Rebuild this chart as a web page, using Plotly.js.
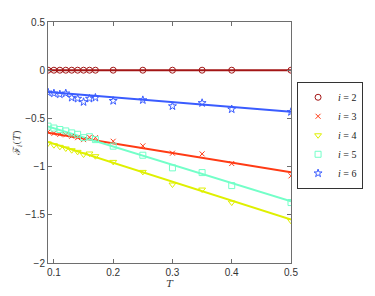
<!DOCTYPE html>
<html><head><meta charset="utf-8">
<script src="https://cdn.plot.ly/plotly-3.0.1.min.js"></script>
<style>html,body{margin:0;padding:0;background:#fff}#chart{width:375px;height:296px}</style>
</head><body><div id="chart"></div>
<script>
const T = [0.09,0.10,0.11,0.12,0.13,0.14,0.15,0.16,0.17,0.2,0.25,0.3,0.35,0.4,0.5];
const F2 = [0,0,0,0,0,0,0,0,0,0,0,0,0,0,0];
const F3 = [-0.64,-0.655,-0.665,-0.67,-0.685,-0.70,-0.72,-0.695,-0.70,-0.737,-0.785,-0.861,-0.868,-0.968,-1.096];
const F4 = [-0.76,-0.778,-0.795,-0.812,-0.83,-0.847,-0.875,-0.864,-0.892,-0.951,-1.055,-1.186,-1.238,-1.373,-1.563];
const F5 = [-0.58,-0.60,-0.615,-0.63,-0.65,-0.665,-0.70,-0.69,-0.72,-0.788,-0.882,-1.013,-1.062,-1.197,-1.373];
const F6 = [-0.23,-0.24,-0.25,-0.24,-0.285,-0.295,-0.33,-0.295,-0.285,-0.318,-0.31,-0.373,-0.34,-0.405,-0.433];
const fitT = [0.09,0.5];
const fit2 = [0,0];
const fit3 = [-0.65,-1.06];
const fit4 = [-0.743,-1.55];
const fit5 = [-0.583,-1.36];
const fit6 = [-0.225,-0.43];
const labels = ['<i>i</i> = 2','<i>i</i> = 3','<i>i</i> = 4','<i>i</i> = 5','<i>i</i> = 6'];
const colors = ['#a31515','#ff3a14','#dff000','#73ffc8','#3a5cff'];
const symbols = ['circle-open','x-thin-open','triangle-down-open','square-open','star-open'];
const sizes = [6,5,6,6,6];
const series = [F2,F3,F4,F5,F6];
const fits = [fit2,fit3,fit4,fit5,fit6];

const traces = [];
for (let k=0;k<5;k++){
  traces.push({x:fitT,y:fits[k],mode:'lines',line:{color:colors[k],width:2},showlegend:false,hoverinfo:'skip'});
}
for (let k=0;k<5;k++){
  traces.push({x:T,y:series[k],mode:'markers',name:labels[k],
    marker:{symbol:symbols[k],size:sizes[k],color:colors[k],line:{color:colors[k],width:1}}});
}
const ax = {showgrid:false,zeroline:false,showline:true,linecolor:'#6e6e6e',linewidth:1,mirror:'ticks',
  ticks:'inside',ticklen:4,tickcolor:'#6e6e6e',tickfont:{family:'Liberation Sans, Arial',size:10,color:'#333'}};
const layout = {
  width:375,height:296,margin:{l:48,r:78,t:22,b:33},
  paper_bgcolor:'#fff',plot_bgcolor:'#fff',
  xaxis:Object.assign({},ax,{range:[0.09,0.5],tickvals:[0.1,0.2,0.3,0.4,0.5],ticktext:['0.1','0.2','0.3','0.4','0.5'],
    title:{text:'<i>T</i>',font:{family:'DejaVu Serif, Liberation Serif',size:10,color:'#333'},standoff:1}}),
  yaxis:Object.assign({},ax,{range:[-2,0.5],tickvals:[-2,-1.5,-1,-0.5,0,0.5],ticktext:['\u22122','\u22121.5','\u22121','\u22120.5','0','0.5'],
    title:{text:'\u2131<sub><i>i</i></sub>(<i>T</i>)',font:{family:'DejaVu Serif, Liberation Serif',size:10,color:'#444'},standoff:2}}),
  legend:{x:1.025,y:0.53,xanchor:'left',yanchor:'middle',bgcolor:'#fff',bordercolor:'#333',borderwidth:1,
    font:{family:'Liberation Serif, DejaVu Serif',size:10,color:'#222'},itemwidth:30,tracegroupgap:0},
  showlegend:true
};
Plotly.newPlot('chart',traces,layout,{staticPlot:true,displayModeBar:false});
</script></body></html>
